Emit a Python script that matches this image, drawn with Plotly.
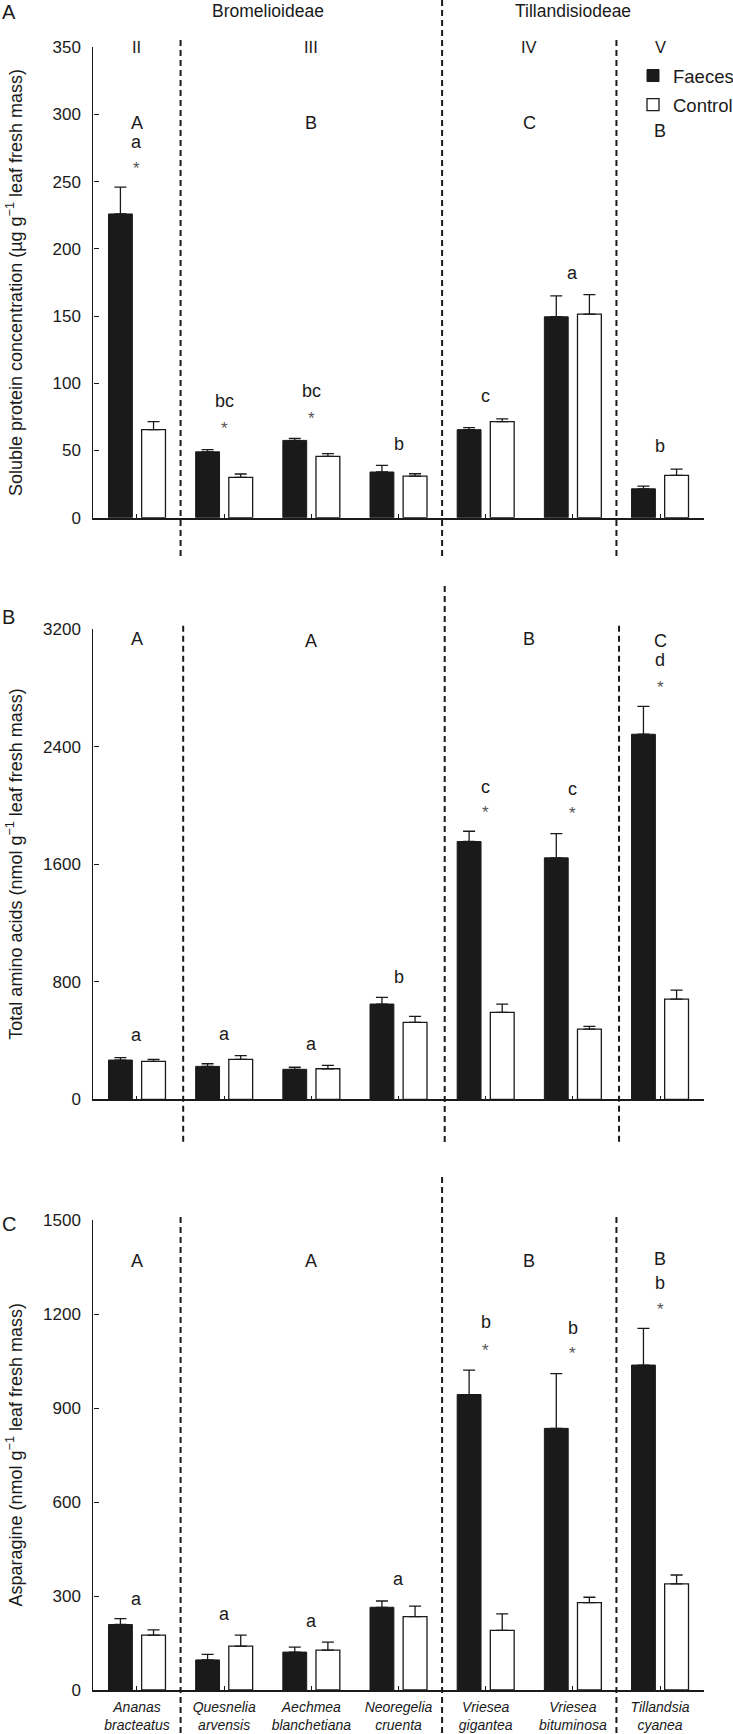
import plotly.graph_objects as go

# ---------------- data ----------------
species = ["Ananas bracteatus", "Quesnelia arvensis", "Aechmea blanchetiana",
           "Neoregelia cruenta", "Vriesea gigantea", "Vriesea bituminosa",
           "Tillandsia cyanea"]
species_ticktext = ["<i>Ananas</i><br><i>bracteatus</i>", "<i>Quesnelia</i><br><i>arvensis</i>",
                    "<i>Aechmea</i><br><i>blanchetiana</i>", "<i>Neoregelia</i><br><i>cruenta</i>",
                    "<i>Vriesea</i><br><i>gigantea</i>", "<i>Vriesea</i><br><i>bituminosa</i>",
                    "<i>Tillandsia</i><br><i>cyanea</i>"]

protein_faeces = [226, 49, 57.5, 34, 65.5, 149.5, 21.5]
protein_faeces_err = [20, 1.7, 1.5, 5, 1.5, 15.5, 2]
protein_control = [65.5, 30, 45.7, 31, 71.5, 151.5, 31.5]
protein_control_err = [6, 2.5, 2, 1.7, 2, 14.5, 4.7]

amino_faeces = [267, 224, 204, 648, 1754, 1643, 2484]
amino_faeces_err = [16, 18, 14, 45, 70, 165, 190]
amino_control = [258, 272, 208, 523, 591, 478, 682]
amino_control_err = [14, 25, 23, 41, 57, 18, 61]

asn_faeces = [209, 96, 121, 264, 943, 835, 1037]
asn_faeces_err = [19, 18, 16, 20, 78, 175, 117]
asn_control = [175, 140, 127, 234, 190, 279, 339]
asn_control_err = [17, 35, 26, 34, 53, 17, 28]

# group labels (x = category index, y = data value)
protein_labels = [(0, 350, "II"), (2, 350, "III"), (4.5, 350, "IV"), (6, 350, "V"),
                  (0, 293.5, "A"), (2, 293.5, "B"), (4.5, 293.5, "C"), (6, 288, "B"),
                  (0, 279.5, "a"), (0, 260, "*"),
                  (1, 87, "bc"), (1, 66, "*"),
                  (2, 94.5, "bc"), (2, 74, "*"),
                  (3, 54.5, "b"), (4, 90.5, "c"), (5, 182, "a"), (6, 53, "b")]
amino_labels = [(0, 3129, "A"), (2, 3116, "A"), (4.5, 3134, "B"), (6, 3118, "C"),
                (6, 2991, "d"), (6, 2800, "*"),
                (4, 2125, "c"), (4, 1950, "*"), (5, 2114, "c"), (5, 1945, "*"),
                (0, 437, "a"), (1, 441, "a"), (2, 375, "a"), (3, 829, "b")]
asn_labels = [(0, 1369, "A"), (2, 1369, "A"), (4.5, 1369, "B"), (6, 1374, "B"),
              (6, 1300, "b"), (6, 1214, "*"),
              (4, 1173, "b"), (4, 1083, "*"), (5, 1154, "b"), (5, 1075, "*"),
              (0, 292, "a"), (1, 242, "a"), (2, 221, "a"), (3, 354, "a")]

subfamilies = [(1.5, "Bromelioideae"), (5, "Tillandisiodeae")]

FONT = "Liberation Sans, Arial, Helvetica, sans-serif"
DARK = "#1a1a1a"
W, H = 733, 1734


def py(p):
    return 1 - p / H


def px(p):
    return p / W


fig = go.Figure()

panels = [
    dict(f=protein_faeces, fe=protein_faeces_err, c=protein_control, ce=protein_control_err,
         yrange=[0, 350], dtick=50, top=47.3, zero=517.7, labels=protein_labels,
         title="Soluble protein concentration (µg g<sup>−1</sup> leaf fresh mass)",
         letter="A", letter_y=11.7, dash_off=0.0,
         dash_top=40, dash_top_mid=0, dash_bot=558),
    dict(f=amino_faeces, fe=amino_faeces_err, c=amino_control, ce=amino_control_err,
         yrange=[0, 3200], dtick=800, top=629, zero=1099.3, labels=amino_labels,
         title="Total amino acids (nmol g<sup>−1</sup> leaf fresh mass)",
         letter="B", letter_y=617.5, dash_off=0.03,
         dash_top=625.7, dash_top_mid=586, dash_bot=1143),
    dict(f=asn_faeces, fe=asn_faeces_err, c=asn_control, ce=asn_control_err,
         yrange=[0, 1500], dtick=300, top=1220, zero=1690, labels=asn_labels,
         title="Asparagine (nmol g<sup>−1</sup> leaf fresh mass)",
         letter="C", letter_y=1224, dash_off=0.0,
         dash_top=1217, dash_top_mid=1177, dash_bot=1734),
]

xdomain = [px(93.4), px(703.6)]
annotations = []
shapes = []

for i, p in enumerate(panels):
    n = i + 1
    xa = "x" if n == 1 else f"x{n}"
    ya = "y" if n == 1 else f"y{n}"
    fig.add_trace(go.Bar(
        x=species, y=p["f"], name="Faeces", xaxis=xa, yaxis=ya,
        marker=dict(color=DARK, line=dict(color=DARK, width=1)),
        error_y=dict(type="data", array=p["fe"], arrayminus=[0] * len(species),
                     symmetric=False, width=6, thickness=1.3, color=DARK),
        showlegend=(n == 1), legendgroup="f"))
    fig.add_trace(go.Bar(
        x=species, y=p["c"], name="Control", xaxis=xa, yaxis=ya,
        marker=dict(color="white", line=dict(color=DARK, width=1.3)),
        error_y=dict(type="data", array=p["ce"], arrayminus=[0] * len(species),
                     symmetric=False, width=6, thickness=1.3, color=DARK),
        showlegend=(n == 1), legendgroup="c"))

    ydom = [py(p["zero"]), py(p["top"])]
    axis_x = dict(domain=xdomain, anchor=ya, type="category",
                  categoryorder="array", categoryarray=species,
                  range=[-0.5, 6.5], showline=True, linecolor=DARK, linewidth=1.6,
                  ticks="inside", ticklen=4, tickwidth=1.2, tickcolor=DARK,
                  showgrid=False, zeroline=False, automargin=False,
                  tickvals=species, ticktext=species_ticktext,
                  showticklabels=(n == 3),
                  tickfont=dict(family=FONT, size=14, color=DARK),
                  ticklabelstandoff=3)
    axis_y = dict(domain=ydom, anchor=xa, range=p["yrange"], dtick=p["dtick"],
                  tick0=0, showline=True, linecolor=DARK, linewidth=1.2,
                  ticks="inside", ticklen=5, tickwidth=1.2, tickcolor=DARK,
                  showgrid=False, zeroline=False, automargin=False,
                  tickfont=dict(family=FONT, size=17, color=DARK),
                  ticklabelstandoff=8)
    fig.layout[f"xaxis{'' if n == 1 else n}"] = axis_x
    fig.layout[f"yaxis{'' if n == 1 else n}"] = axis_y

    # axis title (as rotated text, aligned across panels)
    annotations.append(dict(x=px(14.5), y=(ydom[0] + ydom[1]) / 2, xref="paper", yref="paper",
                            text=p["title"], textangle=-90, showarrow=False,
                            xanchor="center", yanchor="middle",
                            font=dict(family=FONT, size=18, color=DARK)))
    # panel letter
    annotations.append(dict(x=px(8.5), y=py(p["letter_y"]), xref="paper", yref="paper",
                            text=p["letter"], showarrow=False, xanchor="center", yanchor="middle",
                            font=dict(family=FONT, size=20, color=DARK)))
    # group / significance letters
    for (gx, gy, t) in p["labels"]:
        if t == "*":
            fnt = dict(family=FONT, size=17, color="#555555")
        elif t in ("II", "III", "IV", "V"):
            fnt = dict(family=FONT, size=16.5, color=DARK)
        else:
            fnt = dict(family=FONT, size=18, color=DARK)
        annotations.append(dict(x=gx, y=gy, xref=xa, yref=ya, text=t, showarrow=False,
                                xanchor="center", yanchor="middle", font=fnt))
    # dashed separators
    for xd, top in [(0.5, p["dash_top"]), (3.5, p["dash_top_mid"]), (5.5, p["dash_top"])]:
        shapes.append(dict(type="line", xref=xa, yref="paper",
                           x0=xd + p["dash_off"], x1=xd + p["dash_off"],
                           y0=py(top), y1=py(p["dash_bot"]),
                           line=dict(color=DARK, width=2, dash="6px,4px")))

for sx, st in subfamilies:
    annotations.append(dict(x=sx, y=py(11), xref="x", yref="paper", text=st, showarrow=False,
                            xanchor="center", yanchor="middle",
                            font=dict(family=FONT, size=17.5, color=DARK)))

fig.update_layout(
    width=W, height=H,
    margin=dict(l=0, r=0, t=0, b=0, pad=0, autoexpand=False),
    paper_bgcolor="white", plot_bgcolor="white",
    barmode="group", bargap=0.24, bargroupgap=0.28,
    font=dict(family=FONT, color=DARK),
    legend=dict(x=px(633), y=py(57), xanchor="left", yanchor="top",
                font=dict(family=FONT, size=18.5, color=DARK),
                bgcolor="rgba(0,0,0,0)", tracegroupgap=2, itemwidth=30),
    annotations=annotations,
    shapes=shapes,
)

fig.write_html("out.html", config={"displayModeBar": False},
               post_script="document.body.style.margin='0px';document.body.style.padding='0px';")
